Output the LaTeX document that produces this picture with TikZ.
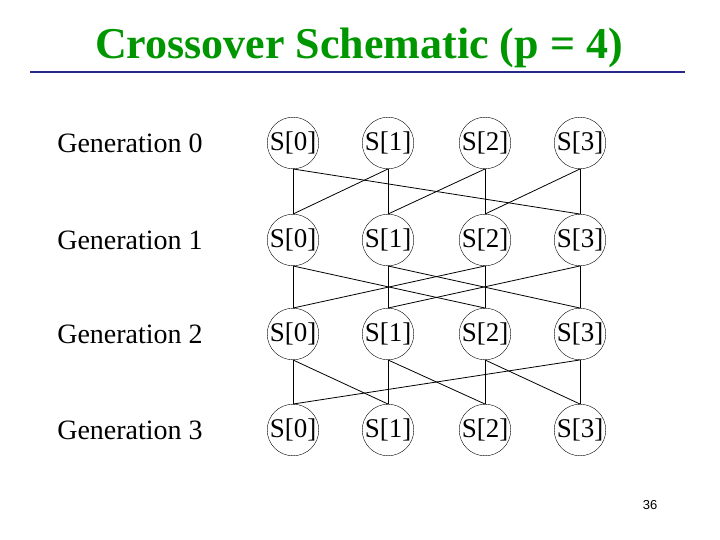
\documentclass[tikz,border=0pt]{standalone}
\usepackage{fontspec}
\setmainfont{Liberation Serif}
\setsansfont{Liberation Sans}
\usepackage{xcolor}
\definecolor{titlegreen}{RGB}{0,150,0}
\definecolor{ruleblue}{RGB}{40,40,140}
\tikzset{
    proc/.style={circle, draw, minimum size=48pt, inner sep=0pt, font=\fontsize{27}{27}\selectfont},
    genlabel/.style={font=\fontsize{28}{28}\selectfont},
    link/.style={draw, line width=0.8pt}
}

\begin{document}
\begin{tikzpicture}[x=1pt,y=-1pt]
    \useasboundingbox (0,0) rectangle (720,540);
    % Title
    \node[font=\fontsize{44}{44}\selectfont\bfseries, text=titlegreen] (title) at (359,48) {Crossover Schematic (p = 4)};
    \draw[ruleblue, line width=2.5pt] (30,72) -- (685,72);

    % Processes per generation
    \foreach \g/\y in {0/143, 1/240, 2/334, 3/430} {
        % Generation label
        \node[genlabel] (lab\g) at (130,\y) {Generation \g};
        \foreach \p/\x in {0/293, 1/388, 2/485, 3/580} {
            \node[proc] (s\g\p) at (\x,\y) {S[\p]};
        }
    }

    % Generation 0 to 1
    \foreach \a/\b in {0/0, 1/1, 2/2, 3/3, 0/3, 1/0, 2/1, 3/2} {
        \draw[link] (s0\a.south) -- (s1\b.north);
    }
    % Generation 1 to 2
    \foreach \a/\b in {0/0, 1/1, 2/2, 3/3, 0/2, 1/3, 2/0, 3/1} {
        \draw[link] (s1\a.south) -- (s2\b.north);
    }
    % Generation 2 to 3
    \foreach \a/\b in {0/0, 1/1, 2/2, 3/3, 0/1, 1/2, 2/3, 3/0} {
        \draw[link] (s2\a.south) -- (s3\b.north);
    }

    % Page number
    \node[font=\fontsize{13}{13}\selectfont\sffamily] (page) at (650,505) {36};
\end{tikzpicture}
\end{document}
